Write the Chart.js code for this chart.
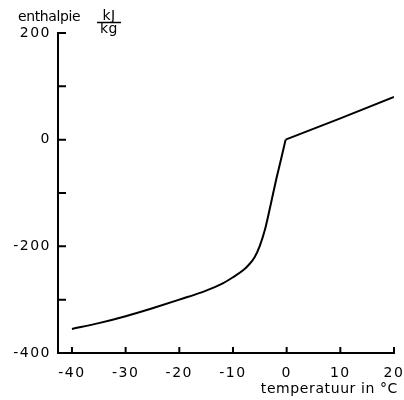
<!DOCTYPE html>
<html>
<head>
<meta charset="utf-8">
<script src="https://cdn.jsdelivr.net/npm/chart.js@4"></script>
<style>
  body { margin: 0; background: #fff; }
  #wrap { width: 404px; height: 400px; }
</style>
</head>
<body>
<div id="wrap"><canvas id="chart"></canvas></div>
<script>
// ice / water: enthalpy against temperature
const tempSolid = [-40, -35, -30, -25, -20, -15, -12, -10, -8, -7, -6, -5, -4, -3, -2, -1, -0.2];
const enthalpySolid = [-355, -344, -331, -316, -300, -283, -270, -258, -244, -234, -221, -199, -167, -123, -77, -35, 0];
const tempLiquid = [-0.2, 10, 20];
const enthalpyLiquid = [0, 40, 80];

const xTicks = [-40, -30, -20, -10, 0, 10, 20];
const yTicks = [200, 100, 0, -100, -200, -300, -400];
const yLabelled = [200, 0, -200, -400];

const toPoints = (xs, ys) => xs.map((x, i) => ({ x: x, y: ys[i] }));

Chart.defaults.font.family = 'DejaVu Sans';
Chart.defaults.font.size = 14;
Chart.defaults.color = '#000';

// inward tick marks plus the axis texts
const decorations = {
  id: 'decorations',
  beforeDraw(chart) {
    chart.ctx.letterSpacing = '1.5px';
  },
  afterDraw(chart) {
    const c = chart.ctx;
    const xs = chart.scales.x, ys = chart.scales.y;
    const area = chart.chartArea;
    c.save();
    c.strokeStyle = '#000';
    c.lineWidth = 2;
    c.beginPath();
    yTicks.forEach(v => {
      const py = ys.getPixelForValue(v);
      c.moveTo(area.left, py);
      c.lineTo(area.left + 8, py);
    });
    xTicks.forEach(v => {
      const px = xs.getPixelForValue(v);
      c.moveTo(px, area.bottom);
      c.lineTo(px, area.bottom - 6);
    });
    c.stroke();

    c.fillStyle = '#000';
    c.font = '14px DejaVu Sans';
    c.letterSpacing = '-0.4px';
    c.textBaseline = 'alphabetic';
    c.textAlign = 'left';
    c.fillText('enthalpie', 18, 21);
    c.letterSpacing = '0.5px';
    c.textAlign = 'center';
    c.fillText('kJ', 109, 20);
    c.fillText('kg', 109, 33);
    c.lineWidth = 1.5;
    c.beginPath();
    c.moveTo(97, 22.5);
    c.lineTo(121, 22.5);
    c.stroke();
    c.letterSpacing = '0.6px';
    c.textAlign = 'right';
    c.fillText('temperatuur in °C', 398, 393);
    c.restore();
  }
};

new Chart(document.getElementById('chart'), {
  type: 'scatter',
  data: {
    datasets: [
      {
        data: toPoints(tempSolid, enthalpySolid),
        showLine: true,
        borderColor: '#000',
        borderWidth: 2,
        pointRadius: 0,
        cubicInterpolationMode: 'monotone'
      },
      {
        data: toPoints(tempLiquid, enthalpyLiquid),
        showLine: true,
        borderColor: '#000',
        borderWidth: 2,
        pointRadius: 0,
        tension: 0
      }
    ]
  },
  options: {
    responsive: true,
    maintainAspectRatio: false,
    animation: false,
    layout: { padding: { top: 33, right: 10, left: 0, bottom: 0 } },
    plugins: { legend: { display: false }, tooltip: { enabled: false } },
    scales: {
      x: {
        type: 'linear',
        min: -42.6,
        max: 20,
        afterBuildTicks: s => { s.ticks = xTicks.map(v => ({ value: v })); },
        afterFit: s => { s.height = 47; s.paddingLeft = 0; s.paddingRight = 0; },
        grid: { display: false, drawTicks: false },
        border: { display: true, color: '#000', width: 2 },
        ticks: { padding: 12, maxRotation: 0, autoSkip: false, callback: v => String(v) }
      },
      y: {
        type: 'linear',
        min: -400,
        max: 200,
        afterBuildTicks: s => { s.ticks = yTicks.map(v => ({ value: v })); },
        afterFit: s => { s.width = 58; s.paddingTop = 0; s.paddingBottom = 0; },
        grid: { display: false, drawTicks: false },
        border: { display: true, color: '#000', width: 2 },
        ticks: { padding: 7, autoSkip: false, callback: v => yLabelled.includes(v) ? String(v) : '' }
      }
    }
  },
  plugins: [decorations]
});
</script>
</body>
</html>
